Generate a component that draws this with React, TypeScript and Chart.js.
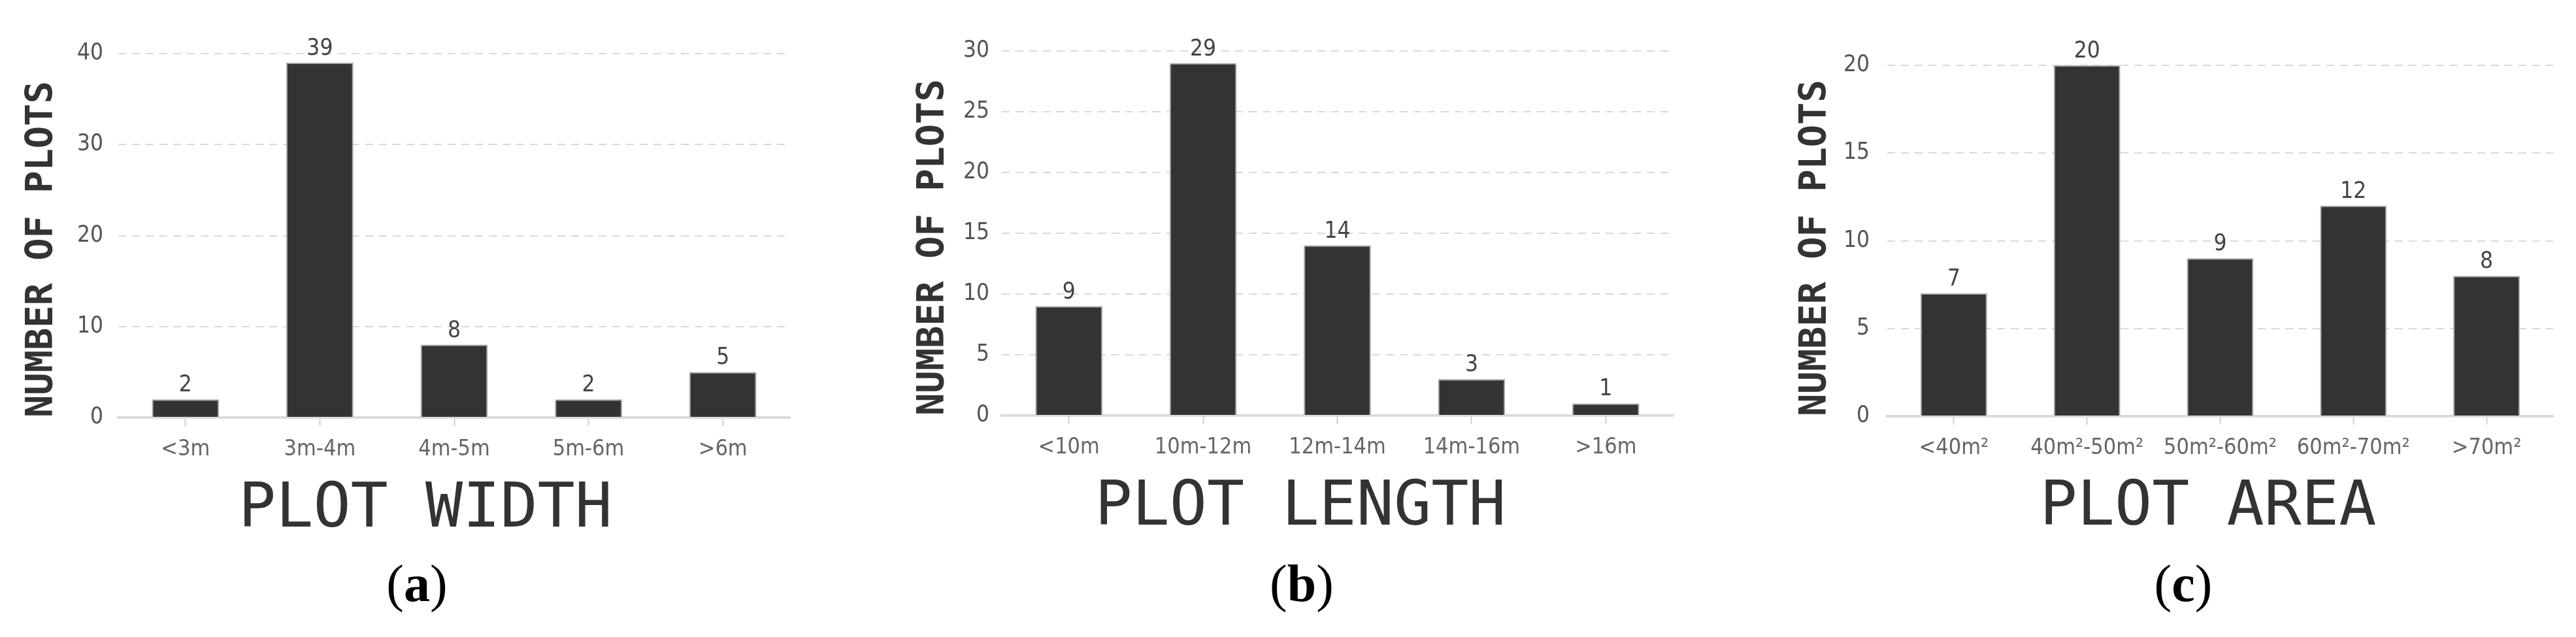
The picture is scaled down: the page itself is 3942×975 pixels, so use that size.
import React, { useEffect, useRef } from 'react';
import { Chart, registerables } from 'chart.js';

Chart.register(...registerables);

// ---------- data ----------
const widthCategories = ['<3m', '3m-4m', '4m-5m', '5m-6m', '>6m'];
const widthCounts = [2, 39, 8, 2, 5];

const lengthCategories = ['<10m', '10m-12m', '12m-14m', '14m-16m', '>16m'];
const lengthCounts = [9, 29, 14, 3, 1];

const areaCategories = ['<40m²', '40m²-50m²', '50m²-60m²', '60m²-70m²', '>70m²'];
const areaCounts = [7, 20, 9, 12, 8];

const yAxisTitle = 'NUMBER OF PLOTS';
const panelTitles = ['PLOT WIDTH', 'PLOT LENGTH', 'PLOT AREA'];
const panelLetters = ['a', 'b', 'c'];
const yMaxes = [40, 30, 20];
const ySteps = [10, 5, 5];

// ---------- styling / layout ----------
const NARROW = "'Liberation Sans Narrow', 'DejaVu Sans Condensed', 'Arial Narrow', sans-serif";
const MONO = "'DejaVu Sans Mono', 'Liberation Mono', monospace";
const CANVAS_H = 740;

type Layout = {
  left: number; width: number; yWidth: number; pr: number; pt: number;
  bottom: number; tickPad: number; titlePad: number; titleCx: number; titleTop: number; letterCx: number;
};

const layouts: Layout[] = [
  { left: 0, width: 1240, yWidth: 181, pr: 31, pt: 82, bottom: 639, tickPad: 23, titlePad: 37, titleCx: 651, titleTop: 726, letterCx: 638 },
  { left: 1380, width: 1210, yWidth: 153, pr: 30, pt: 78, bottom: 636, tickPad: 19, titlePad: 21, titleCx: 1990, titleTop: 723, letterCx: 1992 },
  { left: 2730, width: 1207, yWidth: 158, pr: 30, pt: 100, bottom: 637, tickPad: 27, titlePad: 21, titleCx: 3379, titleTop: 723, letterCx: 3341 },
];

const valueLabelPlugin = {
  id: 'valueLabels',
  afterDatasetsDraw(chart: any) {
    const { ctx } = chart;
    const meta = chart.getDatasetMeta(0);
    const values = chart.data.datasets[0].data as number[];
    ctx.save();
    ctx.font = `35px ${NARROW}`;
    ctx.fillStyle = '#444444';
    ctx.textAlign = 'center';
    ctx.textBaseline = 'alphabetic';
    meta.data.forEach((el: any, i: number) => {
      ctx.fillText(String(values[i]), el.x, el.y - 12);
    });
    ctx.restore();
  },
};

function BarPanel(props: { labels: string[]; values: number[]; yMax: number; yStep: number; layout: Layout }) {
  const { labels, values, yMax, yStep, layout } = props;
  const ref = useRef<HTMLCanvasElement>(null);

  useEffect(() => {
    const chart = new Chart(ref.current as HTMLCanvasElement, {
      type: 'bar',
      data: {
        labels,
        datasets: [
          {
            data: values,
            backgroundColor: '#333333',
            borderColor: '#a8a8a8',
            borderWidth: 2,
            borderSkipped: 'bottom',
            barPercentage: 0.5,
            categoryPercentage: 1,
          },
        ],
      },
      options: {
        animation: false,
        responsive: true,
        maintainAspectRatio: false,
        layout: { padding: { left: 0, right: layout.pr, top: layout.pt, bottom: 0 } },
        plugins: {
          legend: { display: false },
          tooltip: { enabled: false },
          title: { display: false },
        },
        scales: {
          x: {
            offset: true,
            grid: {
              display: true,
              drawOnChartArea: false,
              drawTicks: true,
              tickLength: 13,
              tickWidth: 2,
              tickColor: '#cfcfcf',
              offset: false,
            },
            border: { display: true, color: '#dadada', width: 4 },
            ticks: {
              color: '#666666',
              font: { family: NARROW, size: 34 },
              padding: 16,
              maxRotation: 0,
              autoSkip: false,
            },
            afterFit: (s: any) => {
              s.height = CANVAS_H - layout.bottom;
            },
          },
          y: {
            min: 0,
            max: yMax,
            ticks: {
              stepSize: yStep,
              color: '#555555',
              font: { family: NARROW, size: 35 },
              padding: layout.tickPad,
            },
            grid: {
              color: (c: any) => (c.tick && c.tick.value === 0 ? 'rgba(0,0,0,0)' : '#d9d9d9'),
              lineWidth: 2,
              drawTicks: false,
            },
            border: { display: false, dash: [12, 9] },
            title: {
              display: true,
              text: yAxisTitle,
              align: 'start',
              color: '#333333',
              font: { family: MONO, size: 57, weight: 'bold', lineHeight: 1 },
              padding: { top: layout.titlePad, bottom: 0 },
            },
            afterFit: (s: any) => {
              s.width = layout.yWidth;
            },
          },
        },
      },
      plugins: [valueLabelPlugin],
    } as any);
    return () => chart.destroy();
  }, []);

  return (
    <div style={{ position: 'absolute', left: layout.left, top: 0, width: layout.width, height: CANVAS_H }}>
      <canvas ref={ref} />
    </div>
  );
}

export default function App() {
  const cats = [widthCategories, lengthCategories, areaCategories];
  const vals = [widthCounts, lengthCounts, areaCounts];
  return (
    <div style={{ position: 'fixed', left: 0, top: 0, width: 3942, height: 975, background: '#ffffff', overflow: 'hidden' }}>
      {layouts.map((lay, i) => (
        <React.Fragment key={i}>
          <BarPanel labels={cats[i]} values={vals[i]} yMax={yMaxes[i]} yStep={ySteps[i]} layout={lay} />
          <div
            style={{
              position: 'absolute',
              left: lay.titleCx - 500,
              width: 1000,
              top: lay.titleTop,
              textAlign: 'center',
              fontFamily: MONO,
              fontSize: 95,
              lineHeight: '95px',
              color: '#333333',
              whiteSpace: 'pre',
            }}
          >
            {panelTitles[i]}
          </div>
          <div
            style={{
              position: 'absolute',
              left: lay.letterCx - 150,
              width: 300,
              top: 853,
              textAlign: 'center',
              fontFamily: "'Liberation Serif', 'DejaVu Serif', serif",
              fontSize: 80,
              lineHeight: '80px',
              color: '#000000',
            }}
          >
            (<b>{panelLetters[i]}</b>)
          </div>
        </React.Fragment>
      ))}
    </div>
  );
}
